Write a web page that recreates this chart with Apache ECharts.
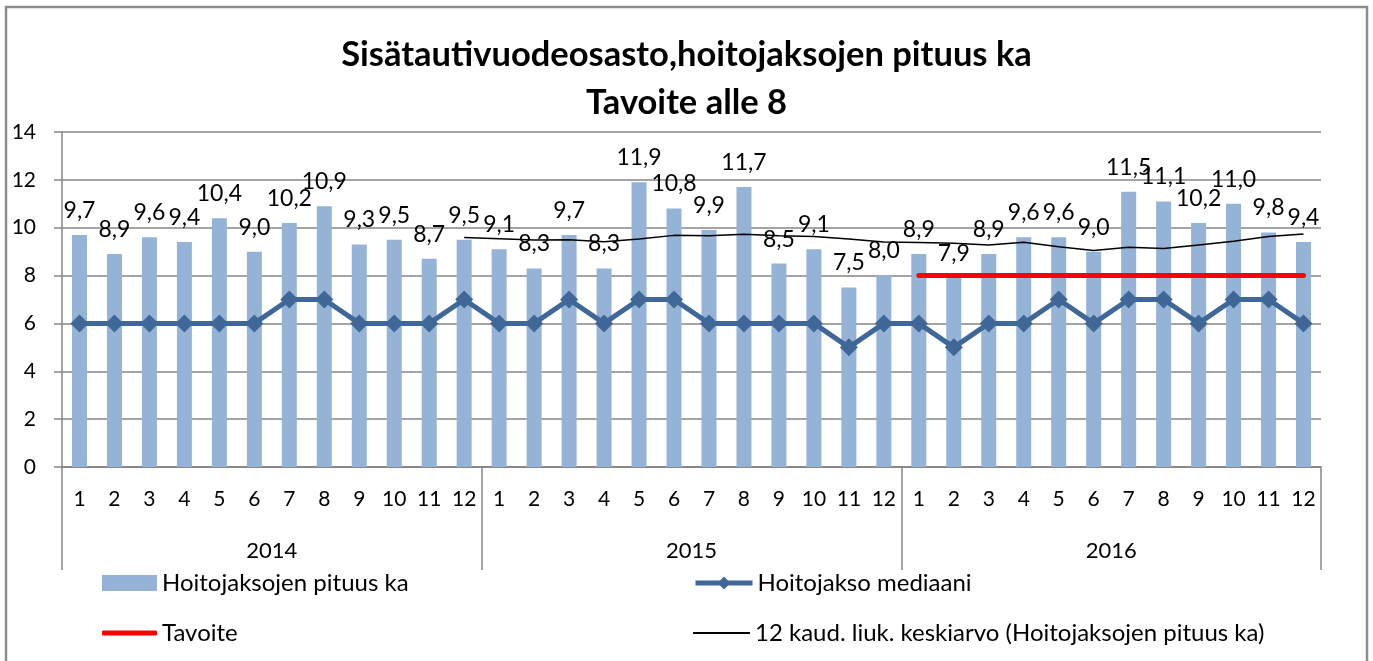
<!DOCTYPE html>
<html>
<head>
<meta charset="utf-8">
<script src="https://cdn.jsdelivr.net/npm/echarts@6/dist/echarts.min.js"></script>
<style>
  html, body { margin: 0; padding: 0; background: #fff; }
  #chart { width: 1373px; height: 661px; }
</style>
</head>
<body>
<div id="chart"></div>
<script>
// Months within each year, and the years shown on the second axis row
const months = ['1','2','3','4','5','6','7','8','9','10','11','12'];
const years = ['2014', '2015', '2016'];

// Average length of care episodes (days), month by month 2014-2016
const avgLength = [
  9.7, 8.9, 9.6, 9.4, 10.4, 9.0, 10.2, 10.9, 9.3, 9.5, 8.7, 9.5,
  9.1, 8.3, 9.7, 8.3, 11.9, 10.8, 9.9, 11.7, 8.5, 9.1, 7.5, 8.0,
  8.9, 7.9, 8.9, 9.6, 9.6, 9.0, 11.5, 11.1, 10.2, 11.0, 9.8, 9.4
];

// Median length of care episodes
const medianLength = [
  6, 6, 6, 6, 6, 6, 7, 7, 6, 6, 6, 7,
  6, 6, 7, 6, 7, 7, 6, 6, 6, 6, 5, 6,
  6, 5, 6, 6, 7, 6, 7, 7, 6, 7, 7, 6
];

// Target level, set for 2016 only
const target = [
  null, null, null, null, null, null, null, null, null, null, null, null,
  null, null, null, null, null, null, null, null, null, null, null, null,
  8, 8, 8, 8, 8, 8, 8, 8, 8, 8, 8, 8
];

// 12-period moving average of the average length
const movingAvg = [
  null, null, null, null, null, null, null, null, null, null, null, 9.59,
  9.54, 9.49, 9.50, 9.41, 9.53, 9.68, 9.66, 9.73, 9.66, 9.63, 9.53, 9.40,
  9.38, 9.35, 9.28, 9.39, 9.20, 9.05, 9.18, 9.13, 9.28, 9.43, 9.63, 9.74
];

// Y axis range
const yMin = 0, yMax = 14, yStep = 2;

const categories = [];
years.forEach(y => months.forEach(m => categories.push(y + '-' + m)));

const FONT = 'Lato';
const GRAY = '#868686';
const BAR = '#95B3D7';
const MEDIAN = '#3F6797';

const chart = echarts.init(document.getElementById('chart'), null, { renderer: 'canvas' });

const legendText = { fontFamily: FONT, fontSize: 24, color: '#000' };

chart.setOption({
  animation: false,
  backgroundColor: '#fff',
  title: {
    text: 'Sisätautivuodeosasto,hoitojaksojen pituus ka\nTavoite alle 8',
    left: 'center',
    top: 26,
    textStyle: { fontFamily: FONT, fontWeight: 'bold', fontSize: 34.5, lineHeight: 48, color: '#000' }
  },
  legend: [
    { data: ['Hoitojaksojen pituus ka'], left: 97, top: 566, itemWidth: 55, itemHeight: 16, itemGap: 4, textStyle: legendText, icon: 'rect' },
    { data: ['Hoitojakso mediaani'], left: 688, top: 566, itemWidth: 57, itemHeight: 16, textStyle: legendText,
      lineStyle: { width: 5 } },
    { data: ['Tavoite'], left: 97, top: 616, itemWidth: 55, itemHeight: 5, textStyle: legendText, icon: 'roundRect' },
    { data: ['12 kaud. liuk. keskiarvo (Hoitojaksojen pituus ka)'], left: 688, top: 616, itemWidth: 57, itemHeight: 2, textStyle: legendText, icon: 'rect' }
  ],
  grid: { left: 62, right: 52, top: 132, bottom: 194, containLabel: false },
  xAxis: [
    {
      type: 'category',
      data: categories,
      axisLine: { show: true, lineStyle: { color: GRAY, width: 1.5 } },
      axisTick: { show: false },
      axisLabel: {
        interval: 0, margin: 22,
        fontFamily: FONT, fontSize: 21, color: '#000',
        formatter: v => v.split('-')[1]
      },
      splitLine: { show: false }
    },
    {
      type: 'category',
      data: years,
      position: 'bottom',
      axisLine: { show: true, lineStyle: { color: GRAY, width: 1.5 } },
      axisTick: { show: true, length: 103, lineStyle: { color: GRAY, width: 1.5 } },
      axisLabel: { margin: 73, fontFamily: FONT, fontSize: 22, color: '#000' },
      splitLine: { show: false }
    }
  ],
  yAxis: {
    type: 'value',
    min: yMin, max: yMax, interval: yStep,
    axisLine: { show: true, lineStyle: { color: GRAY, width: 1.5 } },
    axisTick: { show: true, length: 8, lineStyle: { color: GRAY, width: 1.5 } },
    axisLabel: { margin: 26, fontFamily: FONT, fontSize: 21, color: '#000' },
    splitLine: { show: true, lineStyle: { color: GRAY, width: 1.5 } }
  },
  series: [
    {
      name: 'Hoitojaksojen pituus ka',
      type: 'bar',
      data: avgLength,
      barWidth: 15,
      itemStyle: { color: BAR },
      z: 2,
      label: {
        show: true, position: 'top', distance: 13,
        fontFamily: FONT, fontSize: 23, color: '#000',
        formatter: p => p.value.toFixed(1).replace('.', ',')
      }
    },
    {
      name: 'Hoitojakso mediaani',
      type: 'line',
      data: medianLength,
      symbol: 'diamond',
      symbolSize: 18,
      itemStyle: { color: MEDIAN },
      lineStyle: { color: MEDIAN, width: 5 },
      z: 4
    },
    {
      name: 'Tavoite',
      type: 'line',
      data: target,
      symbol: 'none',
      itemStyle: { color: '#FF0000' },
      lineStyle: { color: '#FF0000', width: 5, cap: 'round' },
      z: 5
    },
    {
      name: '12 kaud. liuk. keskiarvo (Hoitojaksojen pituus ka)',
      type: 'line',
      data: movingAvg,
      symbol: 'none',
      itemStyle: { color: '#000' },
      lineStyle: { color: '#000', width: 1.5 },
      z: 3
    }
  ],
  graphic: [
    {
      type: 'rect',
      shape: { x: 6, y: 7, width: 1361, height: 680 },
      style: { fill: null, stroke: '#8C8C8C', lineWidth: 2.5 },
      silent: true
    }
  ]
});
</script>
</body>
</html>
